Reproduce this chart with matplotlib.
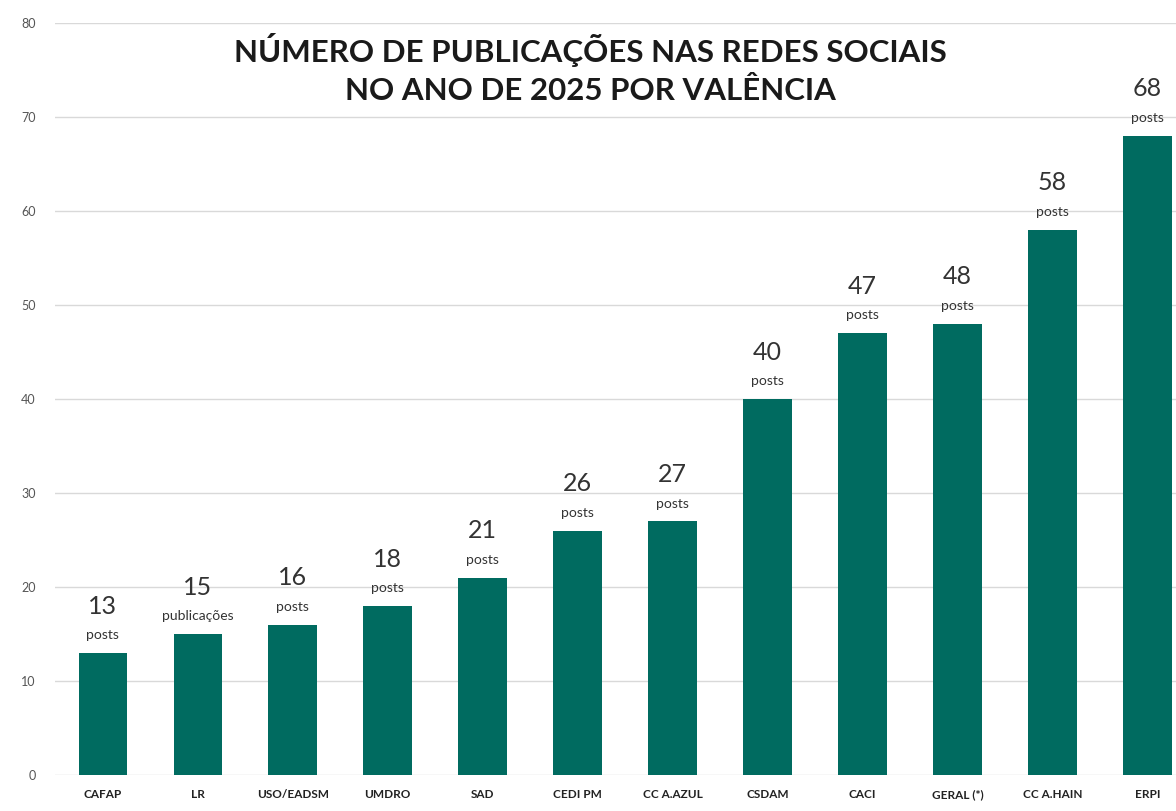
import matplotlib.pyplot as plt

# ======================
# DATA
# ======================
categories = ["CAFAP", "LR", "USO/EADSM", "UMDRO", "SAD", "CEDI PM",
              "CC A.AZUL", "CSDAM", "CACI", "GERAL (*)", "CC A.HAIN", "ERPI"]
values = [13, 15, 16, 18, 21, 26, 27, 40, 47, 48, 58, 68]
units = ["posts", "publicações", "posts", "posts", "posts", "posts",
         "posts", "posts", "posts", "posts", "posts", "posts"]
y_ticks = [0, 10, 20, 30, 40, 50, 60, 70, 80]

BAR_COLOR = "#006b60"
FONT = ["Lato", "DejaVu Sans"]

# ======================
# PLOT
# ======================
plt.rcParams["font.family"] = FONT
fig = plt.figure(figsize=(11.76, 8.11), dpi=100)
ax = fig.add_axes([0.047, 0.044, 0.953, 0.9276])

x = range(len(categories))
ax.bar(x, values, width=0.51, color=BAR_COLOR, zorder=3)

for i, (v, u) in enumerate(zip(values, units)):
    ax.text(i, v + 1.9, u, ha="center", va="center", fontsize=10, color="#333333")
    ax.text(i, v + 5.0, str(v), ha="center", va="center", fontsize=18,
            color="#333333")

ax.set_xlim(-0.5, 11.3)
ax.set_ylim(0, 80)
ax.set_yticks(y_ticks)
ax.set_xticks(list(x))
ax.set_xticklabels(categories, fontsize=8.5, fontweight="bold", color="#222222")
ax.tick_params(axis="y", labelsize=9, colors="#555555", length=0, pad=14)
ax.tick_params(axis="x", length=0, pad=10)
ax.grid(axis="y", color="#d9d9d9", linewidth=1, zorder=0)
for s in ax.spines.values():
    s.set_visible(False)

fig.text(0.502, 0.915, "NÚMERO DE PUBLICAÇÕES NAS REDES SOCIAIS\nNO ANO DE 2025 POR VALÊNCIA",
         ha="center", va="center", fontsize=22.5, fontweight="bold", color="#1a1a1a",
         linespacing=1.45)

plt.savefig("out.png", dpi=100)
